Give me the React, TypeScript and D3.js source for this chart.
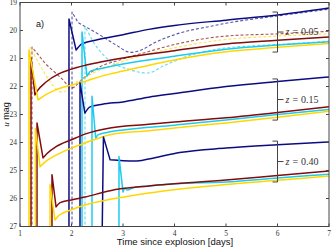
import React from 'react';
import * as d3 from 'd3';

type P = [number, number];

const W = 336;
const H = 252;

const xTicks = [1, 2, 3, 4, 5, 6, 7];
const yTicks = [19, 20, 21, 22, 23, 24, 25, 26, 27];

// z = 0.05 (solid)
const navy005: P[] = [[1.951, 28], [1.951, 19.59], [2.09, 20.7], [2.2, 20.48], [2.5, 20.33], [3.0, 20.15], [3.5, 19.96], [4.0, 19.82], [5.0, 19.63], [6.0, 19.45], [7.0, 19.2]];
const cyan005: P[] = [[2.204, 28], [2.204, 20.05], [2.3, 21.63], [2.37, 21.45], [2.6, 21.35], [3.0, 21.2], [4.0, 20.92], [5.0, 20.67], [6.0, 20.52], [7.0, 20.4]];
const red005: P[] = [[1.214, 28], [1.214, 20.98], [1.29, 22.3], [1.34, 22.15], [1.5, 21.85], [1.75, 21.55], [2.0, 21.38], [2.5, 21.15], [3.0, 20.98], [4.0, 20.72], [5.0, 20.48], [6.0, 20.35], [7.0, 20.23]];
const yellow005: P[] = [[1.174, 28], [1.174, 20.7], [1.35, 22.48], [1.45, 22.35], [1.68, 22.13], [2.0, 21.95], [2.26, 21.82], [2.6, 21.62], [3.0, 21.45], [4.0, 21.05], [5.0, 20.76], [6.0, 20.6], [7.0, 20.46]];
// z = 0.05 (dashed)
const navy005d: P[] = [[2.01, 28], [2.01, 19.34], [2.13, 19.72], [2.55, 20.16], [2.85, 20.5], [3.15, 20.78], [3.35, 20.7], [3.6, 20.45], [4.05, 20.12], [4.7, 19.85], [5.0, 19.74], [6.0, 19.48], [7.0, 19.24]];
const cyan005d: P[] = [[2.262, 28], [2.262, 19.86], [2.45, 20.5], [2.75, 21.1], [3.1, 21.38], [3.47, 21.52], [3.8, 21.25], [4.25, 20.92], [4.85, 20.66], [5.5, 20.55], [6.0, 20.5], [7.0, 20.38]];
const red005d: P[] = [[1.233, 28], [1.233, 20.59], [1.5, 21.2], [1.8, 21.7], [2.01, 22.05], [2.2, 21.75], [2.55, 21.3], [2.94, 21.05], [3.5, 20.75], [4.0, 20.5], [5.0, 20.2], [6.0, 20.12], [7.0, 20.03]];
const yellow005d: P[] = [[1.194, 28], [1.194, 20.6], [1.5, 21.6], [1.82, 22.2], [2.1, 21.85], [2.5, 21.45], [3.0, 21.1], [4.0, 20.62], [5.0, 20.32], [6.0, 20.2], [7.0, 20.12]];
// z = 0.15
const navy015: P[] = [[2.165, 28], [2.165, 21.87], [2.26, 22.95], [2.36, 22.73], [2.6, 22.63], [3.0, 22.55], [3.5, 22.38], [4.0, 22.25], [5.0, 22.0], [6.0, 21.82], [7.0, 21.66]];
const cyan015: P[] = [[2.398, 28], [2.398, 22.35], [2.47, 23.84], [2.52, 23.72], [2.75, 23.62], [3.0, 23.55], [4.0, 23.38], [5.0, 23.2], [6.0, 23.0], [7.0, 22.82]];
const red015: P[] = [[1.33, 28], [1.33, 23.3], [1.447, 24.55], [1.52, 24.4], [1.7, 24.15], [2.0, 23.9], [2.26, 23.7], [2.75, 23.48], [3.5, 23.35], [4.0, 23.27], [5.0, 23.12], [6.0, 22.93], [7.0, 22.72]];
const yellow015: P[] = [[1.3, 28], [1.3, 23.5], [1.39, 24.87], [1.47, 24.72], [1.7, 24.45], [2.0, 24.2], [2.26, 24.02], [2.75, 23.72], [3.5, 23.58], [4.0, 23.48], [5.0, 23.3], [6.0, 23.1], [7.0, 22.88]];
// z = 0.40
const navy040: P[] = [[2.59, 28], [2.62, 23.8], [2.75, 24.62], [3.0, 24.65], [3.27, 24.66], [3.6, 24.55], [4.1, 24.36], [5.0, 24.2], [6.0, 24.08], [7.0, 23.98]];
const cyan040: P[] = [[2.922, 28], [2.922, 24.5], [3.0, 25.77], [3.04, 25.63], [3.08, 25.7], [3.2, 25.62], [3.5, 25.55], [4.0, 25.47], [5.0, 25.41], [6.0, 25.27], [7.0, 25.13]];
const red040: P[] = [[1.621, 28], [1.621, 25.15], [1.7, 26.3], [1.78, 26.15], [2.0, 26.05], [2.26, 25.95], [2.75, 25.72], [3.5, 25.55], [5.0, 25.34], [6.0, 25.18], [7.0, 25.02]];
const yellow040: P[] = [[1.583, 28], [1.583, 25.5], [1.68, 26.77], [1.76, 26.6], [2.0, 26.4], [2.26, 26.23], [2.75, 26.03], [3.5, 25.8], [5.0, 25.5], [6.0, 25.35], [7.0, 25.2]];

// redshift group brackets: [label, top mag, bottom mag]
const groupLabels = ['0.05', '0.15', '0.40'];
const groupTop = [19.34, 21.73, 23.95];
const groupBottom = [20.77, 23.2, 25.41];
const bracketDay = 6;

const NAVY = '#0c0c82';
const CYAN = '#1ecbee';
const RED = '#820c0c';
const YELLOW = '#ffd700';

const series: { data: P[]; color: string; dashed: boolean }[] = [
  { data: navy005d, color: NAVY, dashed: true },
  { data: cyan005d, color: CYAN, dashed: true },
  { data: red005d, color: RED, dashed: true },
  { data: yellow005d, color: YELLOW, dashed: true },
  { data: navy005, color: NAVY, dashed: false },
  { data: cyan005, color: CYAN, dashed: false },
  { data: red005, color: RED, dashed: false },
  { data: yellow005, color: YELLOW, dashed: false },
  { data: navy015, color: NAVY, dashed: false },
  { data: cyan015, color: CYAN, dashed: false },
  { data: red015, color: RED, dashed: false },
  { data: yellow015, color: YELLOW, dashed: false },
  { data: navy040, color: NAVY, dashed: false },
  { data: cyan040, color: CYAN, dashed: false },
  { data: red040, color: RED, dashed: false },
  { data: yellow040, color: YELLOW, dashed: false },
];

const L = 20, R = 329, T = 2.5, B = 226.5;
const x = d3.scaleLinear().domain([1, 7]).range([L, R]);
const y = d3.scaleLinear().domain([19, 27]).range([T, B]);

const lin = d3.line<P>().x(d => x(d[0])).y(d => y(d[1]));
const smooth = d3.line<P>().x(d => x(d[0])).y(d => y(d[1])).curve(d3.curveMonotoneX);

function pathFor(pts: P[]): string {
  const head = lin(pts.slice(0, 3)) || '';
  const tail = (smooth(pts.slice(2)) || '').replace(/^M/, 'L');
  return head + tail;
}

const AX = '#444';
const serif = '"Liberation Serif", "DejaVu Serif", serif';
const sans = '"Liberation Sans", Arial, sans-serif';

export default function App() {
  return (
    <div style={{ position: 'absolute', left: 0, top: 0 }}>
      <svg width={W} height={H} style={{ display: 'block', background: '#fff' }}>
        <defs>
          <clipPath id="plot">
            <rect x={L} y={T} width={R - L} height={B - T} />
          </clipPath>
        </defs>
        <g clipPath="url(#plot)" fill="none" strokeLinejoin="round">
          {series.map((s, i) => (
            <path
              key={i}
              d={pathFor(s.data)}
              stroke={s.color}
              strokeWidth={s.dashed ? 1.1 : 1.5}
              strokeOpacity={s.dashed ? 0.7 : 1}
              strokeDasharray={s.dashed ? '3,2' : undefined}
            />
          ))}
        </g>
        {/* axes box */}
        <rect x={L} y={T} width={R - L} height={B - T} fill="none" stroke={AX} strokeWidth={1} />
        {xTicks.map(t => (
          <g key={'x' + t}>
            <line x1={x(t)} x2={x(t)} y1={B} y2={B - 3} stroke={AX} />
            <line x1={x(t)} x2={x(t)} y1={T} y2={T + 3} stroke={AX} />
            <text x={x(t)} y={B + 9} fontSize={7.5} fontFamily={serif} textAnchor="middle" fill="#333">{t}</text>
          </g>
        ))}
        {yTicks.map(t => (
          <g key={'y' + t}>
            <line x1={L} x2={L + 3} y1={y(t)} y2={y(t)} stroke={AX} />
            <line x1={R} x2={R - 3} y1={y(t)} y2={y(t)} stroke={AX} />
            <text x={L - 3} y={y(t) + 2.5} fontSize={7.5} fontFamily={serif} textAnchor="end" fill="#333">{t}</text>
          </g>
        ))}
        <text x={175} y={245} fontSize={9.5} fontFamily={sans} textAnchor="middle" fill="#111">Time since explosion [days]</text>
        <text transform={`translate(9,${(T + B) / 2}) rotate(-90)`} fontSize={9} textAnchor="middle" fill="#111">
          <tspan fontFamily={serif} fontStyle="italic">u</tspan>
          <tspan fontFamily={sans}> mag</tspan>
        </text>
        <text x={36} y={27} fontSize={9} fontFamily={sans} fill="#111">a)</text>
        {groupLabels.map((g, i) => {
          const bx = x(bracketDay);
          const y0 = y(groupTop[i]);
          const y1 = y(groupBottom[i]);
          const ym = (y0 + y1) / 2;
          return (
            <g key={g}>
              <path d={`M${bx - 5},${y0}H${bx}V${y1}H${bx - 5}M${bx},${ym}H${bx + 6}`} fill="none" stroke={AX} strokeWidth={1} />
              <text x={bx + 8} y={ym + 3} fontSize={10} fontFamily={serif} fill="#333">
                <tspan fontStyle="italic">z</tspan>
                <tspan dx={3}>=</tspan>
                <tspan dx={3}>{g}</tspan>
              </text>
            </g>
          );
        })}
      </svg>
    </div>
  );
}
